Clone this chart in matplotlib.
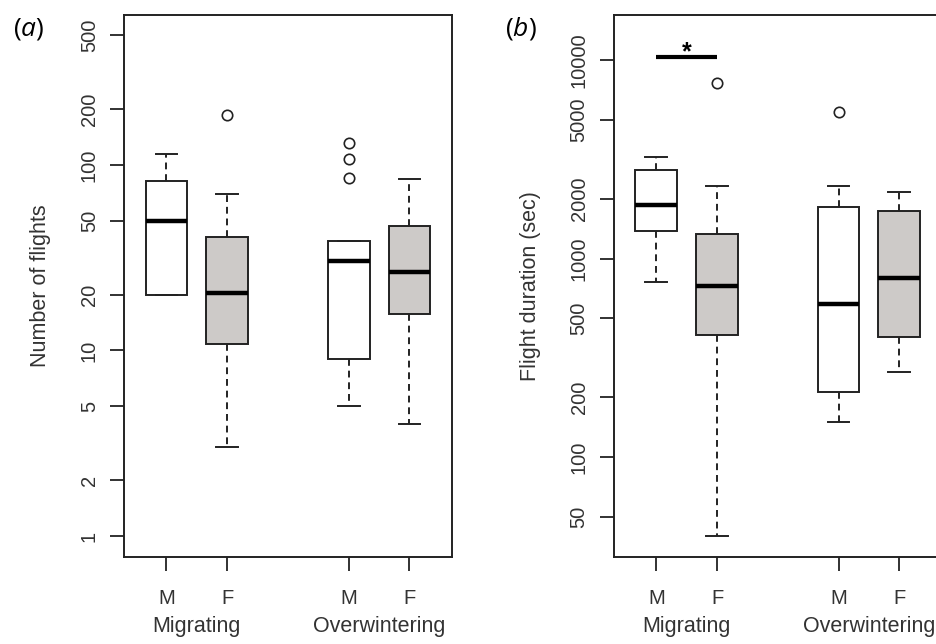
import matplotlib
matplotlib.use("Agg")
import matplotlib.pyplot as plt
from matplotlib.ticker import FixedLocator, NullLocator

plt.rcParams['font.family'] = ['Liberation Sans', 'DejaVu Sans']
plt.rcParams['mathtext.fontset'] = 'custom'
plt.rcParams['mathtext.rm'] = 'Open Sans'
plt.rcParams['mathtext.it'] = 'Open Sans:italic'

# ---- data ----
groups = ["Migrating", "Overwintering"]
sexes = ["M", "F", "M", "F"]
positions = [1, 2, 4, 5]
fill_colors = ["white", "#cdcac8", "white", "#cdcac8"]

# Panel (a): number of flights  (whislo, q1, med, q3, whishi)
flights_whislo = [20, 3, 5, 4]
flights_q1 = [20, 10.8, 9, 15.7]
flights_med = [50, 20.4, 30.4, 26.4]
flights_q3 = [82, 41, 39, 47]
flights_whishi = [115, 70, 39, 84]
flights_fliers = [[], [186], [132, 108, 85], []]
flights_ticks = [1, 2, 5, 10, 20, 50, 100, 200, 500]

# Panel (b): flight duration (sec)
dur_whislo = [760, 40, 150, 270]
dur_q1 = [1380, 410, 213, 403]
dur_med = [1850, 731, 592, 802]
dur_q3 = [2800, 1330, 1820, 1740]
dur_whishi = [3230, 2310, 2310, 2170]
dur_fliers = [[], [7650], [5450], []]
dur_ticks = [50, 100, 200, 500, 1000, 2000, 5000, 10000]
sig_level = 10300


def stats(lo, q1, med, q3, hi, fl):
    return [dict(whislo=a, q1=b, med=c, q3=d, whishi=e, fliers=f, label="")
            for a, b, c, d, e, f in zip(lo, q1, med, q3, hi, fl)]


fig = plt.figure(figsize=(9.37, 6.44), dpi=100)
W = 0.3501
ax_a = fig.add_axes([0.1323, 0.1351, W, 0.8416])
ax_b = fig.add_axes([0.6550, 0.1351, W, 0.8416])


def draw(ax, st, ylim, yticks, ylabel):
    bp = ax.bxp(st, positions=positions, widths=0.69, capwidths=0.36,
                patch_artist=True, manage_ticks=False,
                boxprops=dict(linewidth=1.4, edgecolor="#222222"),
                medianprops=dict(linewidth=3.2, color="black", solid_capstyle="butt"),
                whiskerprops=dict(linewidth=1.4, linestyle=(0, (3.5, 2.5)), color="#222222"),
                capprops=dict(linewidth=1.4, color="#222222"),
                flierprops=dict(marker="o", markersize=7.5, markerfacecolor="none",
                                markeredgecolor="#222222", markeredgewidth=1.2))
    for patch, c in zip(bp["boxes"], fill_colors):
        patch.set_facecolor(c)
    ax.set_yscale("log")
    ax.set_ylim(*ylim)
    ax.set_xlim(0.3, 5.7)
    ax.yaxis.set_major_locator(FixedLocator(yticks))
    ax.yaxis.set_minor_locator(NullLocator())
    ax.set_yticklabels([str(t) for t in yticks], rotation=90, va="center")
    ax.set_xticks(positions)
    ax.set_xticklabels(sexes)
    ax.tick_params(axis="both", direction="out", length=10, width=1.3,
                   colors="#222222", labelsize=14.5, labelcolor="#333333")
    ax.tick_params(axis="x", pad=13)
    ax.tick_params(axis="y", pad=8)
    for s in ax.spines.values():
        s.set_linewidth(1.4)
        s.set_color("#222222")
    ax.set_ylabel(ylabel, fontsize=15.5, color="#333333", labelpad=21)
    for g, x in zip(groups, [1.5, 4.5]):
        ax.text(x, -0.129, g, transform=ax.get_xaxis_transform(),
                ha="center", va="center", fontsize=15.5, color="#333333")


draw(ax_a, stats(flights_whislo, flights_q1, flights_med, flights_q3, flights_whishi, flights_fliers),
     (0.77, 644), flights_ticks, "Number of flights")
draw(ax_b, stats(dur_whislo, dur_q1, dur_med, dur_q3, dur_whishi, dur_fliers),
     (31.5, 16800), dur_ticks, "Flight duration (sec)")

# significance bar
ax_b.plot([positions[0], positions[1]], [sig_level, sig_level], color="black",
          linewidth=3, solid_capstyle="butt")
ax_b.text(1.5, sig_level * 0.975, "*", ha="center", va="baseline", fontsize=18,
          fontweight="bold", color="black")

fig.text(29 / 937, 1 - 29 / 644, r"$(\mathit{a})$", ha="center", va="center",
         fontsize=19, color="black")
fig.text(521 / 937, 1 - 29 / 644, r"$(\mathit{b})$", ha="center", va="center",
         fontsize=19, color="black")

fig.savefig("out.png", dpi=100, facecolor="white")
